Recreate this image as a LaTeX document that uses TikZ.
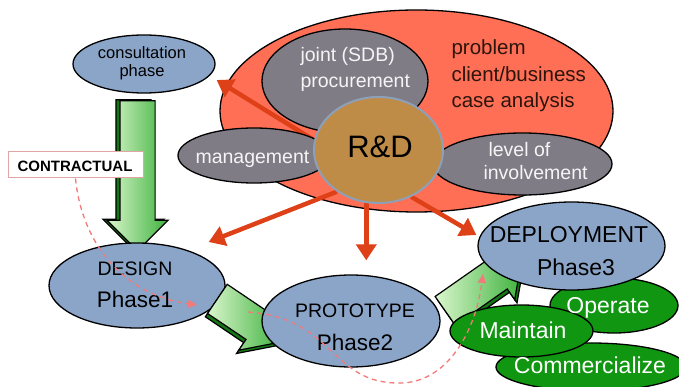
\documentclass[tikz,border=0pt]{standalone}
\usepackage{fontspec}
\setmainfont{Liberation Sans}
\usetikzlibrary{shapes.geometric,shapes.arrows,arrows.meta,calc}

\definecolor{rdred}{RGB}{255,111,85}
\definecolor{topicgrey}{RGB}{127,124,134}
\definecolor{rdbrown}{RGB}{191,140,72}
\definecolor{rdedge}{RGB}{140,160,185}
\definecolor{phaseblue}{RGB}{138,165,200}
\definecolor{opgreen}{RGB}{16,150,16}
\definecolor{linkred}{RGB}{222,64,24}
\definecolor{dashpink}{RGB}{242,122,122}
\definecolor{boxpink}{RGB}{225,165,165}
\definecolor{lightgreen}{RGB}{218,246,204}
\definecolor{midgreen}{RGB}{62,178,62}
\definecolor{darkgreen}{RGB}{22,118,22}
\definecolor{issuetext}{RGB}{45,20,12}

\newcommand\fsz[1]{\fontsize{#1}{#1}\selectfont}

\pgfdeclarelayer{back}
\pgfdeclarelayer{links}
\pgfsetlayers{back,links,main}

\tikzset{
  oval/.style={ellipse,draw=black,line width=1.3pt,inner sep=0pt},
  blockarrow/.style={single arrow,draw=black,line width=1.2pt,inner xsep=0pt,inner ysep=17pt,
    single arrow head extend=13pt,single arrow tip angle=90,
    left color=lightgreen,right color=midgreen},
  blockside/.style={single arrow,draw=black,line width=1.2pt,inner xsep=0pt,inner ysep=17pt,
    single arrow head extend=13pt,single arrow tip angle=90,fill=darkgreen},
  link/.style={draw=linkred,line width=4.5pt,-{Triangle[length=16pt,width=20pt]}},
  trace/.style={draw=dashpink,line width=1.3pt,dash pattern=on 5pt off 4pt,
    -{Triangle[length=9pt,width=8pt]}},
}

\begin{document}
\begin{tikzpicture}[x=1pt,y=-1pt]
  \useasboundingbox (0,0) rectangle (679,387);

  \begin{pgfonlayer}{back}
    \fill[white] (0,0) rectangle (679,387);
    \node[oval,fill=rdred,minimum width=393pt,minimum height=202pt] (cloud) at (416.5,111) {};
    \node[oval,fill=topicgrey,minimum width=166pt,minimum height=104pt] (joint) at (345,81) {};
  \end{pgfonlayer}

  % topics round R&D
  \node[oval,fill=topicgrey,minimum width=152pt,minimum height=55pt] (mgmt) at (254,155.5) {};
  \node[oval,fill=topicgrey,minimum width=179pt,minimum height=62pt] (involve) at (522.5,164) {};
  \node[ellipse,draw=rdedge,line width=2pt,fill=rdbrown,inner sep=0pt,
        minimum width=129pt,minimum height=106pt] (rd) at (378.5,150) {};

  \begin{scope}[every node/.style={anchor=base west,text=white!96!black,font=\fsz{19.5}}]
    \node (jointA)    at (297,62)  {joint (SDB)};
    \node (jointB)    at (297,88)  {procurement};
    \node (mgmtA)     at (192,164) {management};
    \node (involveA)  at (485,157) {level of};
    \node (involveB)  at (480,180) {involvement};
  \end{scope}
  \begin{scope}[every node/.style={anchor=base west,text=issuetext,font=\fsz{20.5}}]
    \node (issueA) at (448,55)  {problem};
    \node (issueB) at (448,82)  {client/business};
    \node (issueC) at (448,108) {case analysis};
  \end{scope}
  \node[anchor=base,font=\fsz{31}] (rdA) at (380,158) {R\&D};

  % consultation
  \node[oval,fill=phaseblue,minimum width=142pt,minimum height=58pt] (consult) at (144,64) {};
  \node[anchor=base,font=\fsz{16.5}] (consultA) at (142,59) {consultation};
  \node[anchor=base,font=\fsz{16.5}] (consultB) at (142,77) {phase};

  \node[blockside,rotate=-90,minimum height=150pt] (toDesignSide) at (133.5,166) {};
  \node[blockarrow,rotate=-90,minimum height=150pt] (toDesign) at (137.5,167) {};

  \node[draw=boxpink,line width=1pt,fill=white,minimum width=135pt,minimum height=26pt] (contract) at (75.5,165) {};
  \node[anchor=base,font=\bfseries\fsz{15}] (contractA) at (75,172) {CONTRACTUAL};

  % phases
  \node[oval,fill=phaseblue,minimum width=176pt,minimum height=85pt] (design) at (137,285.5) {};
  \node[anchor=base,font=\fsz{19.5}] (designA) at (135,275) {DESIGN};
  \node[anchor=base,font=\fsz{22.5}] (designB) at (135,307) {Phase1};

  \node[blockside,rotate=-34,minimum height=77pt] (toProtoSide) at (239.8,318.8) {};
  \node[blockarrow,rotate=-34,minimum height=77pt] (toProto) at (242,315.5) {};
  \node[blockside,rotate=35,minimum height=94pt] (toDeploySide) at (478.8,292.3) {};
  \node[blockarrow,rotate=35,minimum height=94pt] (toDeploy) at (476.5,289) {};

  \node[oval,fill=phaseblue,minimum width=178pt,minimum height=92pt] (proto) at (351,321) {};
  \node[anchor=base,font=\fsz{19.5}] (protoA) at (355,317) {PROTOTYPE};
  \node[anchor=base,font=\fsz{22.5}] (protoB) at (355,350) {Phase2};

  \begin{scope}[every node/.style={oval,fill=opgreen}]
    \node[minimum width=128pt,minimum height=55pt] (operate) at (614,305.5) {};
    \node[minimum width=190pt,minimum height=48pt] (commerce) at (591,367) {};
    \node[minimum width=143pt,minimum height=52pt] (maintain) at (521.5,331) {};
  \end{scope}
  \begin{scope}[every node/.style={anchor=base,text=white,font=\fsz{23}}]
    \node (operateA)  at (608,313) {Operate};
    \node (commerceA) at (590,373) {Commercialize};
    \node (maintainA) at (523,338) {Maintain};
  \end{scope}

  \node[oval,fill=phaseblue,minimum width=187pt,minimum height=88pt] (deploy) at (571.5,246) {};
  \node[anchor=base,font=\fsz{23}] (deployA) at (569,242) {DEPLOYMENT};
  \node[anchor=base,font=\fsz{23}] (deployB) at (576,275) {Phase3};

  % R&D feeds every stage
  \begin{pgfonlayer}{links}
    \draw[link] ($(rd.west)+(12,-3)$) -- ($(consult.east)+(1,16)$);
    \draw[link] (rd.225) -- ($(design.north east)+(9,-13)$);
    \draw[link,shorten >=14pt] (rd.257) -- (rd.257 |- proto.north);
    \draw[link] (rd.-55) -- ($(deploy.west)+(-1,-11)$);
  \end{pgfonlayer}

  % contractual trace
  \coordinate (traceEndA) at (197,305);
  \coordinate (traceStartB) at (248,312);
  \coordinate (traceEndB) at (483,274);
  \draw[trace] (contract.south) .. controls (82,245) and (125,295) .. (traceEndA);
  \draw[trace] (traceStartB) .. controls (335,318) and (330,384) .. (400,383)
               .. controls (445,383) and (475,335) .. (traceEndB);

\end{tikzpicture}
\end{document}
